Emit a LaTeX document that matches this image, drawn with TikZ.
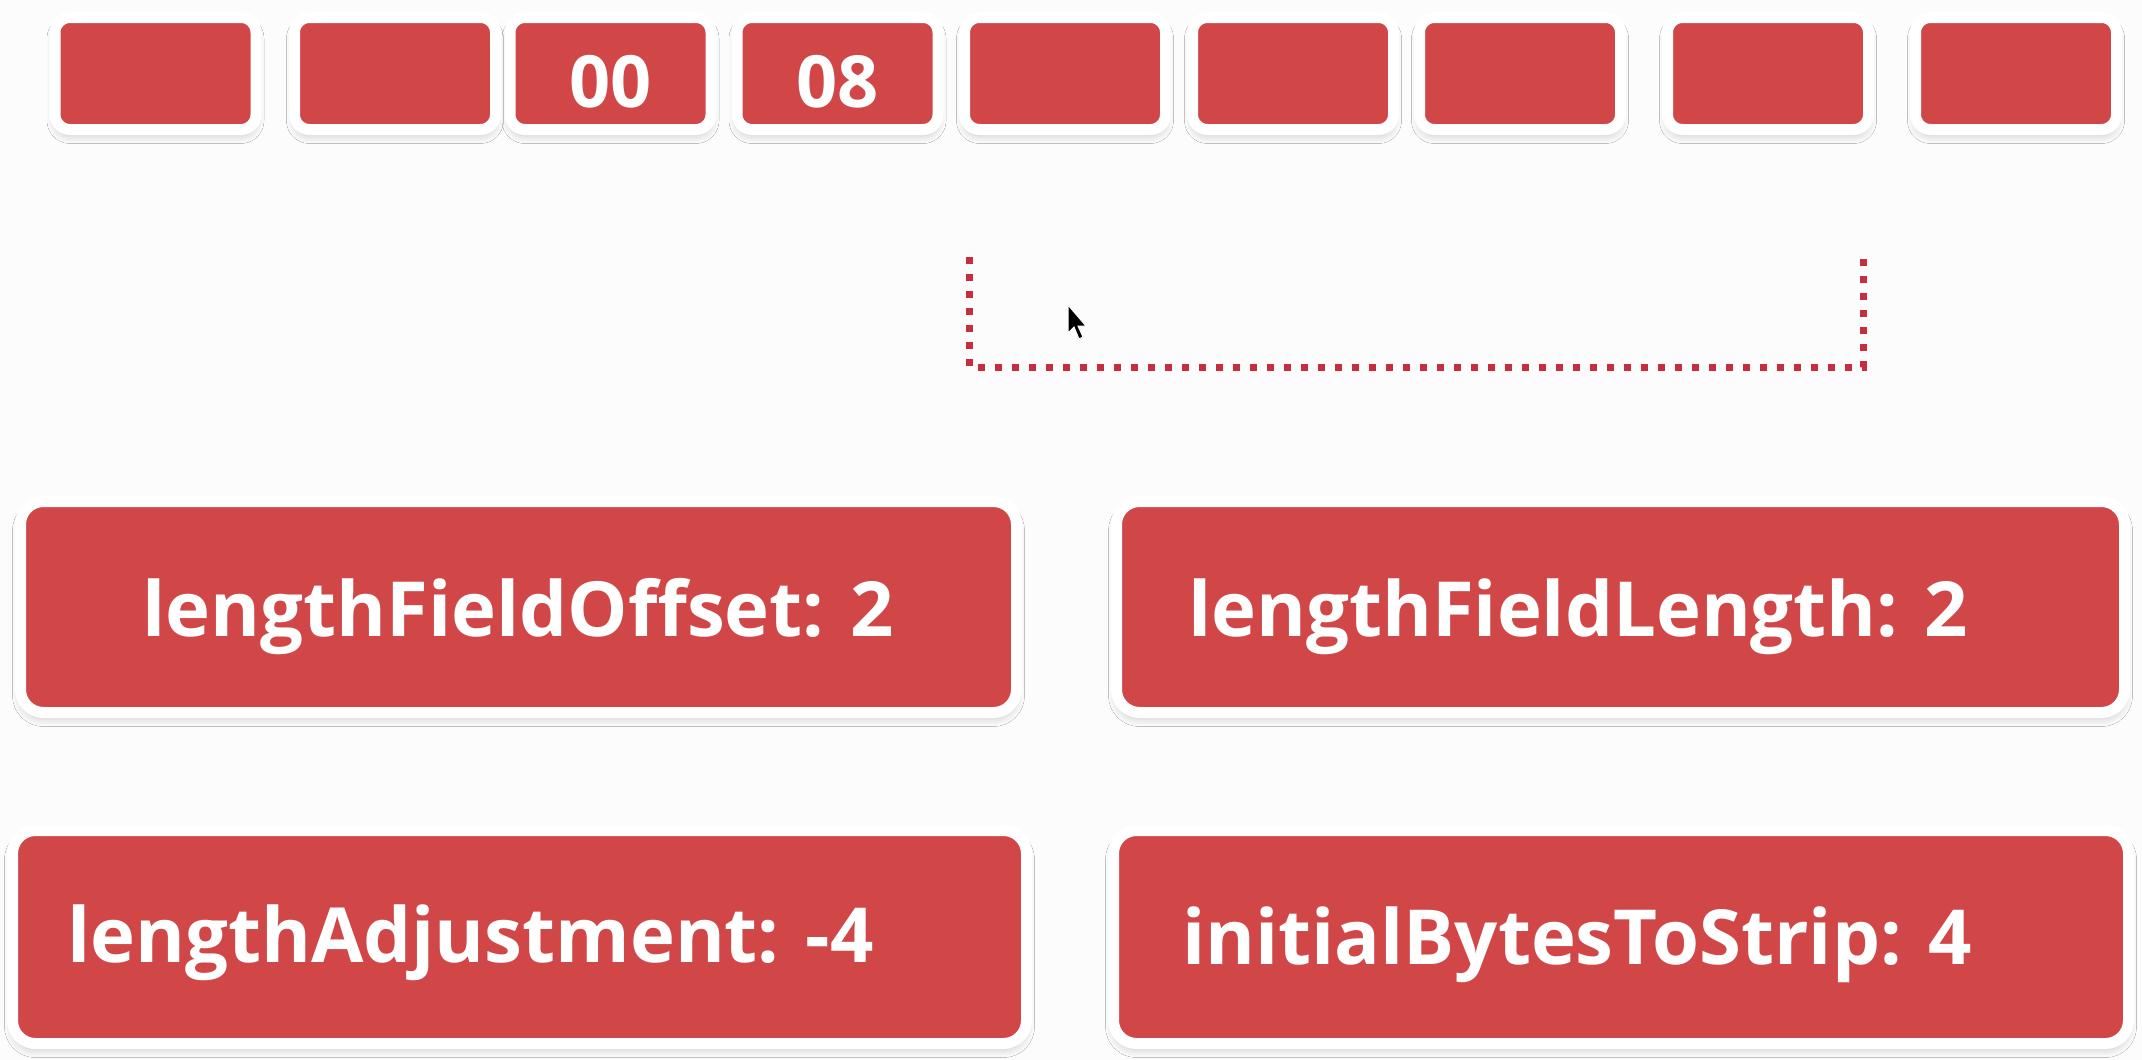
\documentclass[tikz,border=0pt]{standalone}
\usepackage{fontspec}
\setmainfont{Open Sans}
\usetikzlibrary{shadows.blur}
\definecolor{boxred}{RGB}{209,71,72}
\definecolor{dotred}{RGB}{200,44,62}
\definecolor{bgcol}{RGB}{252,252,252}
\tikzset{
  framed/.style={fill=boxred, draw=white, line width=11pt, inner sep=0pt,
    blur shadow={shadow xshift=0pt, shadow yshift=-6pt, shadow blur radius=8pt, shadow opacity=22}},
  bytebox/.style={framed, minimum width=201pt, minimum height=112pt, rounded corners=15pt},
  bigbox/.style={framed, rounded corners=23pt},
  bytelbl/.style={text=white, font=\fontsize{72}{80}\selectfont\bfseries, inner sep=0pt},
  biglbl/.style={text=white, font=\fontsize{76}{90}\selectfont\bfseries, inner sep=0pt},
  dotline/.style={draw=dotred, line width=7pt, dash pattern=on 7pt off 10pt},
}
\begin{document}
\begin{tikzpicture}[x=1pt,y=-1pt]
\useasboundingbox (0,0) rectangle (2142,1060);
\fill[bgcol] (0,0) rectangle (2142,1060);
% byte row
\node[bytebox] (b1) at (155.5,73.5) {};
\node[bytebox] (b2) at (395,73.5) {};
\node[bytebox] (b3) at (610.5,73.5) {};
\node[bytebox] (b4) at (837.5,73.5) {};
\node[bytebox] (b5) at (1065,73.5) {};
\node[bytebox] (b6) at (1293,73.5) {};
\node[bytebox] (b7) at (1520,73.5) {};
\node[bytebox] (b8) at (1768,73.5) {};
\node[bytebox] (b9) at (2016,73.5) {};
\node[bytelbl, anchor=base] (t3) at ([yshift=-33.5pt]b3.center) {00};
\node[bytelbl, anchor=base] (t4) at ([yshift=-33.5pt]b4.center) {08};
% dotted bracket
\coordinate (p1) at (969,257);
\coordinate (p2) at (969,367);
\coordinate (p3) at (1863,367);
\coordinate (p4) at (1863,257);
\draw[dotline] (p1) -- (p2) -- (p3) -- (p4);
% cursor
\filldraw[fill=black, draw=white, line width=1pt]
  (1068,305) -- ++(0,28) -- ++(6,-6) -- ++(5,12) -- ++(4,-2) -- ++(-5,-11) -- ++(8,0) -- cycle;
% parameter boxes
\node[bigbox, minimum width=996pt, minimum height=211pt] (bA) at (518.5,607) {};
\node[bigbox, minimum width=1008pt, minimum height=211pt] (bB) at (1620.5,607) {};
\node[bigbox, minimum width=1014pt, minimum height=213pt] (bC) at (519.5,937) {};
\node[bigbox, minimum width=1015pt, minimum height=213pt] (bD) at (1621,937) {};
\node[biglbl, anchor=base] (lA) at ([yshift=-29pt]bA.center) {lengthFieldOffset: 2};
\node[biglbl, anchor=base west] (lB) at (1188,636) {lengthFieldLength: 2};
\node[biglbl, anchor=base west] (lC) at (67,962) {lengthAdjustment: -4};
\node[biglbl, anchor=base west] (lD) at (1182,964) {initialBytesToStrip: 4};
\end{tikzpicture}
\end{document}
